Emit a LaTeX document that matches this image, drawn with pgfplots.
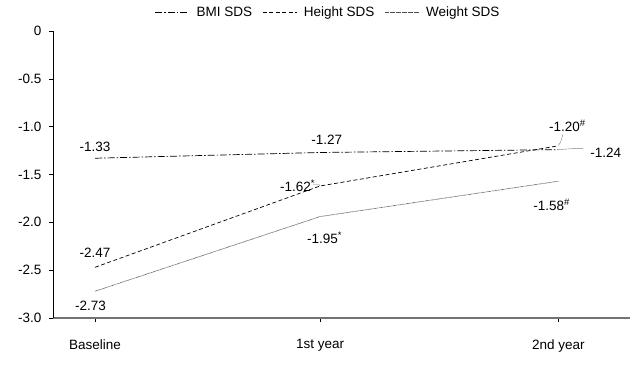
\documentclass[border=0pt]{standalone}
\usepackage{pgfplots}
\pgfplotsset{compat=1.18}
\usepackage{fontspec}
\setmainfont{Liberation Sans}
\begin{document}
\fontsize{13.5}{16}\selectfont
\begin{tikzpicture}
\begin{axis}[
  scale only axis,
  width=577pt, height=287pt,
  xmin=-0.187, xmax=2.378,
  ymin=-3, ymax=0,
  axis x line*=bottom, axis y line*=left,
  x axis line style={black!55, line width=1.1pt},
  y axis line style={black, line width=0.6pt},
  xtick={0,1,2.06},
  xticklabels={Baseline,1st year,2nd year},
  ytick={-3,-2.5,-2,-1.5,-1,-0.5,0},
  yticklabels={-3.0,-2.5,-2.0,-1.5,-1.0,-0.5,0},
  tick align=outside,
  major tick length=4pt,
  tick style={black, line width=0.6pt},
  xticklabel style={yshift=-13pt, font=\fontsize{13.5}{16}\selectfont},
  yticklabel style={xshift=-3pt, font=\fontsize{13.5}{16}\selectfont},
  clip=false,
  legend columns=3,
  legend style={at={(0.477,1.035)}, anchor=south, draw=none, fill=none,
    font=\fontsize{13.5}{16}\selectfont, inner sep=0pt,
    /tikz/every odd column/.append style={column sep=5pt},
    /tikz/every even column/.append style={column sep=8pt}},
  legend image code/.code={\draw[#1] (0pt,0pt) -- (34pt,0pt);},
]
\coordinate (O) at (rel axis cs:0,0);
\addplot[black, line width=0.7pt, dash pattern=on 7pt off 2pt on 1.5pt off 2pt] coordinates {(0,-1.33) (1,-1.27) (2.06,-1.24)};
\addlegendentry{BMI SDS}
\addplot[black, line width=0.7pt, dash pattern=on 4pt off 2.5pt] coordinates {(0,-2.47) (1,-1.62) (2.06,-1.20)};
\addlegendentry{Height SDS}
\addplot[black!70, line width=0.7pt, dash pattern=on 0.6pt off 0.6pt] coordinates {(0,-2.72) (1,-1.94) (2.06,-1.57)};
\addlegendentry{Weight SDS}

\node at (axis cs:0,-1.21) {-1.33};
\node at (axis cs:1.03,-1.14) {-1.27};
\node at (axis cs:2.10,-0.99) {-1.20\textsuperscript{\#}};
\node at (axis cs:2.27,-1.27) {-1.24};
\node at (axis cs:0.90,-1.62) {-1.62\textsuperscript{*}};
\node at (axis cs:2.03,-1.82) {-1.58\textsuperscript{\#}};
\node at (axis cs:1.02,-2.16) {-1.95\textsuperscript{*}};
\node at (axis cs:0,-2.32) {-2.47};
\node at (axis cs:-0.02,-2.87) {-2.73};

\draw[gray, line width=0.4pt] (axis cs:0.97,-1.605) -- (axis cs:0.995,-1.605) -- (axis cs:1.0,-1.62);
\draw[gray, line width=0.4pt] (axis cs:2.08,-1.08) -- (axis cs:2.07,-1.16) -- (axis cs:2.06,-1.195);
\draw[gray, line width=0.4pt] (axis cs:2.06,-1.24) -- (axis cs:2.12,-1.23) -- (axis cs:2.17,-1.23);
\end{axis}
\path ([shift={(-53pt,-53pt)}]O) rectangle ([shift={(579pt,318pt)}]O);
\end{tikzpicture}
\end{document}
